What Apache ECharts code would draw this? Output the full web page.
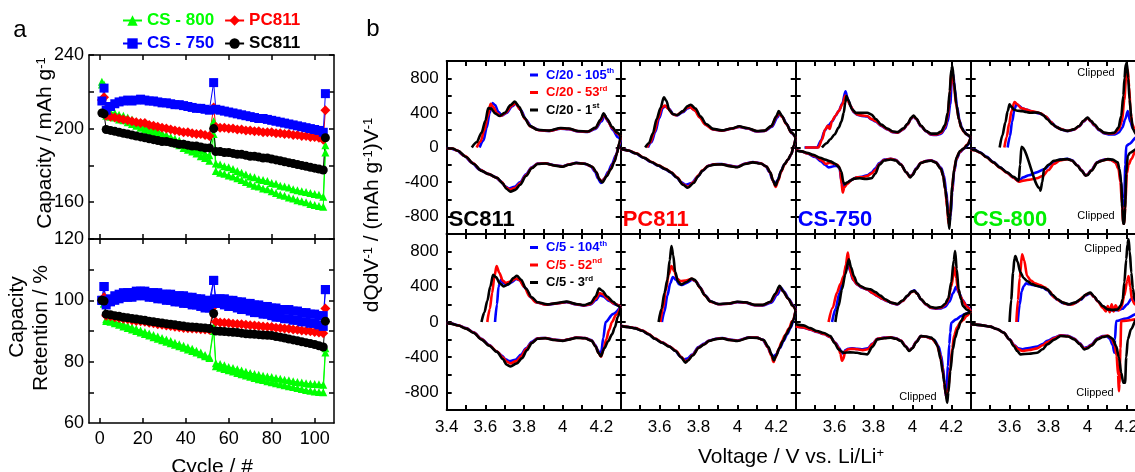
<!DOCTYPE html>
<html><head><meta charset="utf-8">
<script src="https://cdn.jsdelivr.net/npm/echarts@6/dist/echarts.min.js"></script>
<style>html,body{margin:0;padding:0;background:#fff;}#c{width:1135px;height:472px;}</style>
</head><body><div id="c"></div>
<script>
// ---------------- Panel a data ----------------
const cycles = [1,2,3,5,7,9,11,13,15,17,19,21,23,25,27,29,31,33,35,37,39,41,43,45,47,49,51,53,54,56,58,60,62,64,66,68,70,72,74,76,78,80,82,84,86,88,90,92,94,96,98,100,102,104,105];
const capCS750 = [215,222,210,212,213.5,214.5,215,215.5,215,215.5,216,215.5,215,215,214.5,214,214,213.5,213,213,212.5,212,211.5,211,211,210.5,210,225,210.5,210,209.5,209,208.5,208,207.5,207,206.5,206,205.5,205.5,205,204.5,204,203.5,203,202.5,202,201.5,201,200.5,200,199.5,199,198,219];
const capPC811 = [215.5,217,207,206.5,206,205.5,205,204.5,204,203.5,203,203,202,201.5,201,200.5,200,199.5,199,198.5,198,198,197.5,197,197,196.5,196,211.5,201,200.5,200.5,200,200,199.5,199.5,199,199,198.5,198.5,198,198,198,197.5,197.5,197,197,196.5,196.5,196,196,195.5,195.5,195,194,210];
const capSC811 = [208.5,208,199.5,199,198.5,198,197.5,197,196.5,196,195.5,195,194.5,194,193.5,193,193,192.5,192,191.5,191.5,191,190.5,190.5,190,189.5,189.5,200,187.5,187.5,187,187,186.5,186,186,185.5,185,185,184.5,184,184,183.5,183,182.5,182,181.5,181,180.5,180,179.5,179,178.5,178,177.5,195];
const capCS800_A = [225.5,224,209.5,209,208.5,207.5,207,206,205,204,203,202,201,200,199,197.5,196.5,195.5,194.5,193.5,192,191,190,189,188,186.5,185.5,204,181,180.5,179.5,179,178,177,176,175,174,173.5,172.5,172,171.5,170.5,170,169,168.5,168,167,166.5,166,165.5,165,164.5,164,163,191];
const capCS800_B = [224,222,207,206.5,206,205,204.5,203.5,202.5,201.5,200.5,199.5,198.5,197.5,196.5,195,194,193,192,191,189.5,188.5,187.5,186.5,185,184,182.5,197,177,176,175.5,174.5,174,173,172,171,170,169,168.5,167.5,167,166,165,164,163.5,162.5,162,161,160.5,160,159,158.5,158,157.5,187];
const retCS750_A = [100,104.5,99.5,100.5,101.5,102,102.5,102.5,102.5,103,103,103,102.5,102.5,102.5,102,102,102,101.5,101.5,101.5,101,101,100.5,100.5,100,100,106.5,100.5,100.5,100.5,100,100,99.5,99.5,99,99,98.5,98.5,98,98,97.5,97.5,97,97,97,96.5,96.5,96,96,95.5,95.5,95,95,103.5];
const retCS750_B = [100,104.5,98.5,99.5,100,100.5,101,101,101,101.5,101.5,101.5,101,101,100.5,100.5,100,100,99.5,99.5,99,99,98.5,98.5,98,97.5,97.5,106.5,99,99,98.5,98,98,97.5,97,97,96.5,96,96,95.5,95.5,95,94.5,94.5,94,94,93.5,93.5,93,93,92.5,92.5,92,91.5,103.5];
const retPC811 = [100,101,95,94.8,94.5,94.2,94,93.8,93.5,93.3,93.2,93,92.7,92.5,92.2,92,91.8,91.6,91.4,91.2,91,90.9,90.8,90.7,90.6,90.5,90.4,98,93,92.8,92.7,92.6,92.4,92.3,92.2,92,91.9,91.8,91.6,91.5,91.4,91.3,91.1,91,90.8,90.7,90.5,90.4,90.2,90.1,89.9,89.7,89.5,89.3,97.3];
const retSC811 = [100,99.8,95.5,95.3,95,94.8,94.5,94.3,94.1,93.9,93.7,93.5,93.2,93,92.8,92.6,92.4,92.2,92,91.8,91.6,91.4,91.3,91.2,91.1,91,90.8,95.7,90,89.9,89.8,89.7,89.6,89.5,89.3,89.1,89,88.9,88.8,88.7,88.6,88.5,88.2,88,87.7,87.4,87.1,86.8,86.5,86.2,85.9,85.6,85.2,84.8,93.2];
const retCS800_A = [100,99,93.8,93.5,93.1,92.6,92.2,91.7,91.2,90.7,90.2,89.7,89.2,88.7,88.2,87.7,87.2,86.7,86.2,85.7,85.2,84.7,84.2,83.6,83,82.2,81.5,91.5,79.5,79.2,78.8,78.3,77.9,77.5,77.1,76.7,76.3,76,75.7,75.4,75.2,75,74.7,74.4,74.1,73.9,73.6,73.4,73.2,73,72.8,72.7,72.6,72.5,84.4];
const retCS800_B = [100,99,93.3,93,92.5,92,91.5,91,90.5,90,89.5,89,88.5,88,87.5,87,86.5,86,85.5,85,84.5,84,83.5,83,82.4,81.8,81.2,90,78.5,78,77.6,77.2,76.8,76.3,75.9,75.5,75.1,74.7,74.3,74,73.6,73.3,73,72.6,72.3,72,71.7,71.4,71.1,70.8,70.5,70.3,70.1,70,83];
const cycleTicks = [0,20,40,60,80,100];
const capTicks = [160,180,200,220,240];
const capLabels = [160,200,240];
const retTicks = [70,80,90,100,110,120];
const retLabels = [60,80,100,120];

// ---------------- Panel b data (V, dQ/dV) ----------------
const SC811_C20_1st_chg = [[3.53,0],[3.555,60],[3.58,170],[3.6,310],[3.615,455],[3.63,450],[3.65,395],[3.672,365],[3.7,400],[3.73,490],[3.752,530],[3.775,470],[3.8,350],[3.83,250],[3.87,205],[3.93,195],[3.99,225],[4.03,220],[4.08,190],[4.13,185],[4.17,230],[4.195,320],[4.212,395],[4.23,330],[4.255,240],[4.28,175],[4.3,135]];
const SC811_C20_53rd_chg = [[3.555,0],[3.575,70],[3.595,200],[3.612,360],[3.627,505],[3.64,470],[3.66,395],[3.678,365],[3.705,400],[3.735,480],[3.755,510],[3.78,440],[3.805,330],[3.835,240],[3.875,200],[3.93,192],[3.99,220],[4.03,215],[4.08,188],[4.13,183],[4.17,225],[4.195,310],[4.213,385],[4.23,320],[4.255,230],[4.28,165],[4.3,125]];
const SC811_C20_105th_chg = [[3.57,0],[3.59,80],[3.607,230],[3.622,400],[3.637,515],[3.65,490],[3.668,410],[3.685,370],[3.71,400],[3.738,475],[3.758,505],[3.785,430],[3.81,320],[3.84,235],[3.88,200],[3.93,190],[3.99,218],[4.03,213],[4.08,186],[4.13,180],[4.17,215],[4.2,300],[4.218,370],[4.235,300],[4.26,200],[4.285,120],[4.3,90]];
const SC811_C20_1st_dis = [[4.3,135],[4.292,50],[4.282,-60],[4.268,-160],[4.25,-250],[4.228,-330],[4.205,-405],[4.19,-370],[4.175,-290],[4.155,-225],[4.12,-190],[4.07,-180],[4.03,-200],[4.0,-222],[3.96,-210],[3.91,-185],[3.87,-190],[3.84,-240],[3.81,-330],[3.78,-430],[3.755,-490],[3.73,-510],[3.71,-480],[3.69,-415],[3.66,-350],[3.62,-310],[3.58,-270],[3.54,-190],[3.5,-110],[3.46,-40],[3.43,-12],[3.4,-8]];
const SC811_C20_53rd_dis = [[4.3,125],[4.292,40],[4.28,-70],[4.265,-170],[4.245,-260],[4.225,-335],[4.203,-395],[4.188,-360],[4.172,-280],[4.15,-220],[4.115,-188],[4.07,-180],[4.03,-198],[4.0,-220],[3.96,-208],[3.91,-183],[3.87,-188],[3.84,-235],[3.81,-320],[3.78,-415],[3.752,-470],[3.727,-490],[3.705,-460],[3.685,-400],[3.655,-345],[3.615,-305],[3.575,-260],[3.535,-180],[3.495,-100],[3.455,-35],[3.43,-12],[3.4,-8]];
const SC811_C20_105th_dis = [[4.3,90],[4.29,10],[4.275,-90],[4.255,-190],[4.235,-280],[4.215,-360],[4.197,-410],[4.183,-360],[4.167,-280],[4.145,-215],[4.11,-186],[4.07,-178],[4.03,-196],[4.0,-218],[3.96,-206],[3.91,-182],[3.87,-186],[3.84,-228],[3.81,-310],[3.78,-400],[3.75,-455],[3.722,-475],[3.7,-445],[3.68,-390],[3.65,-340],[3.61,-300],[3.57,-255],[3.53,-175],[3.49,-95],[3.45,-32],[3.42,-10],[3.4,-6]];

const SC811_C5_3rd_chg = [[3.58,0],[3.595,110],[3.61,240],[3.625,400],[3.64,535],[3.655,510],[3.675,440],[3.695,405],[3.72,430],[3.745,500],[3.763,525],[3.785,480],[3.81,380],[3.84,280],[3.87,225],[3.92,200],[3.97,215],[4.02,232],[4.07,205],[4.11,192],[4.145,215],[4.17,290],[4.188,380],[4.205,355],[4.23,290],[4.26,230],[4.285,185],[4.3,160]];
const SC811_C5_52nd_chg = [[3.61,0],[3.623,150],[3.635,330],[3.647,520],[3.658,635],[3.672,560],[3.69,470],[3.705,445],[3.73,460],[3.758,495],[3.775,480],[3.8,400],[3.83,290],[3.86,225],[3.91,198],[3.97,212],[4.02,228],[4.07,202],[4.11,188],[4.145,205],[4.17,265],[4.19,330],[4.208,315],[4.235,260],[4.265,210],[4.3,170]];
const SC811_C5_104th_chg = [[3.65,0],[3.66,200],[3.668,400],[3.68,480],[3.695,440],[3.71,420],[3.735,450],[3.76,490],[3.78,470],[3.805,390],[3.835,280],[3.865,222],[3.915,196],[3.97,210],[4.02,226],[4.07,200],[4.11,186],[4.145,200],[4.172,250],[4.192,305],[4.21,290],[4.24,240],[4.27,200],[4.3,175]];
const SC811_C5_3rd_dis = [[4.3,160],[4.285,60],[4.27,-60],[4.255,-140],[4.235,-220],[4.215,-300],[4.197,-390],[4.185,-350],[4.17,-280],[4.15,-215],[4.115,-185],[4.07,-180],[4.03,-200],[4.0,-215],[3.96,-205],[3.91,-185],[3.87,-190],[3.84,-240],[3.815,-320],[3.79,-410],[3.763,-470],[3.73,-505],[3.71,-485],[3.69,-420],[3.66,-340],[3.62,-270],[3.58,-200],[3.54,-125],[3.5,-75],[3.46,-40],[3.42,-18],[3.4,-10]];
const SC811_C5_52nd_dis = [[4.3,170],[4.275,80],[4.255,0],[4.24,-90],[4.225,-200],[4.21,-320],[4.198,-395],[4.185,-350],[4.17,-275],[4.15,-212],[4.115,-183],[4.07,-178],[4.03,-198],[4.0,-213],[3.96,-203],[3.91,-183],[3.87,-188],[3.84,-235],[3.81,-310],[3.785,-390],[3.76,-445],[3.73,-470],[3.71,-450],[3.69,-400],[3.66,-335],[3.62,-265],[3.58,-195],[3.54,-120],[3.5,-72],[3.46,-38],[3.42,-17],[3.4,-10]];
const SC811_C5_104th_dis = [[4.3,175],[4.26,90],[4.222,0],[4.21,-180],[4.2,-330],[4.193,-365],[4.182,-320],[4.168,-260],[4.148,-205],[4.115,-182],[4.07,-176],[4.03,-196],[4.0,-211],[3.96,-201],[3.91,-181],[3.87,-185],[3.84,-225],[3.81,-300],[3.785,-370],[3.755,-430],[3.725,-445],[3.705,-425],[3.685,-380],[3.655,-330],[3.62,-262],[3.58,-192],[3.54,-118],[3.5,-70],[3.46,-37],[3.42,-16],[3.4,-10]];

const PC811_C20_1st_chg = [[3.526,0],[3.545,50],[3.565,160],[3.585,330],[3.605,460],[3.622,580],[3.635,540],[3.65,430],[3.67,385],[3.69,375],[3.72,420],[3.745,480],[3.76,495],[3.785,450],[3.81,360],[3.84,270],[3.875,215],[3.92,198],[3.97,220],[4.01,245],[4.05,225],[4.1,190],[4.14,195],[4.175,250],[4.2,360],[4.213,420],[4.228,370],[4.25,280],[4.277,175],[4.3,115]];
const PC811_C20_53rd_chg = [[3.535,0],[3.553,60],[3.573,180],[3.593,340],[3.612,460],[3.627,485],[3.645,450],[3.665,390],[3.685,372],[3.715,410],[3.742,460],[3.755,470],[3.78,430],[3.805,350],[3.835,265],[3.87,212],[3.92,195],[3.97,218],[4.01,240],[4.05,222],[4.1,188],[4.14,192],[4.175,245],[4.2,350],[4.215,400],[4.23,355],[4.252,270],[4.278,170],[4.3,112]];
const PC811_C20_105th_chg = [[3.54,0],[3.558,60],[3.578,180],[3.598,340],[3.617,460],[3.632,480],[3.65,445],[3.67,385],[3.69,370],[3.72,408],[3.745,455],[3.758,465],[3.785,425],[3.81,345],[3.84,262],[3.875,210],[3.92,194],[3.97,216],[4.01,238],[4.05,220],[4.1,186],[4.14,190],[4.178,240],[4.205,345],[4.218,390],[4.233,350],[4.255,265],[4.28,165],[4.3,110]];
const PC811_C20_1st_dis = [[4.3,115],[4.29,20],[4.277,-76],[4.26,-140],[4.243,-190],[4.225,-270],[4.21,-370],[4.196,-440],[4.183,-380],[4.17,-290],[4.15,-220],[4.12,-185],[4.08,-172],[4.04,-190],[4.0,-228],[3.96,-215],[3.92,-195],[3.88,-198],[3.85,-215],[3.82,-270],[3.8,-330],[3.775,-410],[3.745,-465],[3.72,-430],[3.69,-350],[3.66,-290],[3.63,-250],[3.595,-210],[3.56,-170],[3.52,-120],[3.48,-70],[3.44,-35],[3.4,-15]];
const PC811_C20_53rd_dis = [[4.3,112],[4.29,18],[4.277,-78],[4.26,-142],[4.243,-195],[4.225,-280],[4.21,-385],[4.197,-455],[4.184,-390],[4.17,-292],[4.15,-220],[4.12,-183],[4.08,-170],[4.04,-188],[4.0,-225],[3.96,-212],[3.92,-193],[3.88,-195],[3.85,-212],[3.82,-265],[3.8,-320],[3.775,-400],[3.745,-455],[3.72,-425],[3.69,-345],[3.66,-287],[3.63,-247],[3.595,-207],[3.56,-168],[3.52,-118],[3.48,-68],[3.44,-34],[3.4,-14]];
const PC811_C20_105th_dis = [[4.3,110],[4.29,15],[4.277,-80],[4.26,-145],[4.24,-200],[4.222,-290],[4.207,-380],[4.193,-420],[4.18,-370],[4.166,-285],[4.145,-215],[4.12,-182],[4.08,-168],[4.04,-186],[4.0,-222],[3.96,-210],[3.92,-191],[3.88,-193],[3.85,-212],[3.82,-270],[3.795,-340],[3.765,-410],[3.735,-432],[3.71,-400],[3.685,-340],[3.655,-285],[3.625,-248],[3.59,-208],[3.555,-168],[3.515,-116],[3.475,-66],[3.435,-32],[3.4,-14]];

const PC811_C5_3rd_chg = [[3.595,0],[3.61,150],[3.625,330],[3.64,480],[3.652,700],[3.661,864],[3.67,760],[3.68,570],[3.695,460],[3.71,425],[3.74,455],[3.765,495],[3.78,480],[3.805,400],[3.83,310],[3.86,235],[3.9,205],[3.95,210],[4.0,230],[4.04,225],[4.09,195],[4.13,195],[4.17,230],[4.195,320],[4.217,410],[4.235,350],[4.26,270],[4.285,185],[4.3,130]];
const PC811_C5_52nd_chg = [[3.604,0],[3.618,160],[3.632,360],[3.647,540],[3.661,637],[3.675,580],[3.69,490],[3.708,465],[3.735,470],[3.765,490],[3.785,465],[3.81,385],[3.835,295],[3.865,228],[3.905,202],[3.955,208],[4.0,228],[4.04,222],[4.09,192],[4.13,192],[4.17,228],[4.197,315],[4.218,400],[4.236,345],[4.262,262],[4.288,178],[4.3,135]];
const PC811_C5_104th_chg = [[3.612,0],[3.625,120],[3.64,300],[3.655,440],[3.668,512],[3.685,480],[3.7,430],[3.715,420],[3.74,445],[3.768,480],[3.788,460],[3.81,390],[3.835,300],[3.865,230],[3.905,202],[3.955,207],[4.0,226],[4.04,220],[4.09,190],[4.13,188],[4.175,220],[4.205,310],[4.225,390],[4.242,340],[4.265,260],[4.29,180],[4.3,145]];
const PC811_C5_3rd_dis = [[4.3,130],[4.286,11],[4.27,-70],[4.251,-140],[4.235,-215],[4.217,-292],[4.2,-380],[4.188,-436],[4.176,-370],[4.16,-285],[4.135,-205],[4.1,-180],[4.06,-178],[4.0,-216],[3.96,-205],[3.923,-186],[3.89,-195],[3.854,-216],[3.83,-255],[3.802,-292],[3.77,-380],[3.745,-440],[3.733,-462],[3.71,-400],[3.682,-330],[3.65,-280],[3.612,-235],[3.575,-190],[3.543,-140],[3.51,-100],[3.474,-72],[3.44,-58],[3.4,-45]];
const PC811_C5_52nd_dis = [[4.3,135],[4.282,10],[4.265,-75],[4.245,-150],[4.228,-225],[4.212,-310],[4.197,-400],[4.186,-455],[4.174,-380],[4.158,-290],[4.133,-205],[4.1,-178],[4.06,-176],[4.0,-213],[3.96,-203],[3.923,-184],[3.89,-193],[3.854,-214],[3.83,-252],[3.802,-290],[3.77,-375],[3.745,-435],[3.735,-455],[3.712,-398],[3.684,-328],[3.652,-278],[3.614,-233],[3.577,-188],[3.545,-138],[3.512,-98],[3.476,-70],[3.44,-56],[3.4,-44]];
const PC811_C5_104th_dis = [[4.3,145],[4.29,30],[4.275,-60],[4.256,-140],[4.238,-215],[4.218,-300],[4.198,-370],[4.183,-395],[4.17,-350],[4.155,-280],[4.13,-200],[4.1,-176],[4.06,-174],[4.0,-210],[3.96,-200],[3.923,-182],[3.89,-190],[3.854,-210],[3.83,-245],[3.8,-285],[3.768,-370],[3.742,-415],[3.725,-425],[3.705,-390],[3.68,-325],[3.65,-275],[3.612,-232],[3.575,-188],[3.543,-138],[3.51,-98],[3.474,-70],[3.44,-56],[3.4,-44]];

const CS750_C20_1st_chg = [[3.535,0],[3.56,50],[3.578,96],[3.6,150],[3.621,230],[3.635,300],[3.647,402],[3.655,520],[3.661,594],[3.67,550],[3.69,440],[3.71,400],[3.74,400],[3.768,402],[3.79,380],[3.811,330],[3.84,265],[3.872,218],[3.9,185],[3.923,178],[3.955,222],[3.975,275],[3.995,345],[4.006,370],[4.02,335],[4.044,255],[4.07,192],[4.096,160],[4.125,160],[4.148,185],[4.168,260],[4.182,400],[4.192,650],[4.2,900],[4.206,940],[4.214,760],[4.226,500],[4.24,320],[4.251,235],[4.265,185],[4.277,155],[4.3,118]];
const CS750_C20_53rd_chg = [[3.448,0],[3.517,0],[3.535,90],[3.552,211],[3.565,250],[3.575,215],[3.587,306],[3.605,370],[3.621,421],[3.64,500],[3.656,600],[3.668,540],[3.682,479],[3.7,410],[3.716,383],[3.74,370],[3.768,364],[3.79,330],[3.811,306],[3.84,255],[3.872,211],[3.9,180],[3.923,172],[3.955,215],[3.975,268],[3.995,340],[4.006,364],[4.02,330],[4.044,249],[4.07,190],[4.096,153],[4.125,150],[4.148,172],[4.168,240],[4.182,364],[4.192,600],[4.2,860],[4.206,880],[4.214,700],[4.226,479],[4.24,320],[4.251,230],[4.265,180],[4.277,153],[4.3,115]];
const CS750_C20_105th_chg = [[3.445,0],[3.51,0],[3.53,80],[3.55,200],[3.57,260],[3.587,300],[3.605,365],[3.621,420],[3.64,510],[3.656,650],[3.668,560],[3.682,480],[3.7,405],[3.716,380],[3.74,365],[3.768,358],[3.79,325],[3.811,300],[3.84,250],[3.872,208],[3.9,178],[3.923,170],[3.955,212],[3.975,265],[3.995,335],[4.006,360],[4.02,325],[4.044,245],[4.07,186],[4.096,148],[4.125,144],[4.148,160],[4.168,215],[4.182,300],[4.195,500],[4.203,800],[4.21,850],[4.218,680],[4.23,470],[4.243,310],[4.255,225],[4.27,175],[4.285,140],[4.3,110]];
const CS750_C20_1st_dis = [[4.3,118],[4.286,38],[4.265,-10],[4.245,-40],[4.228,-110],[4.215,-250],[4.205,-450],[4.196,-750],[4.19,-940],[4.184,-800],[4.176,-600],[4.169,-479],[4.158,-330],[4.148,-249],[4.12,-175],[4.096,-153],[4.07,-160],[4.044,-180],[4.02,-250],[4.0,-320],[3.989,-345],[3.97,-290],[3.941,-200],[3.915,-150],[3.889,-138],[3.855,-150],[3.83,-200],[3.81,-300],[3.79,-355],[3.76,-365],[3.73,-355],[3.7,-360],[3.68,-385],[3.664,-405],[3.652,-425],[3.645,-400],[3.635,-280],[3.621,-220],[3.6,-185],[3.578,-160],[3.55,-140],[3.526,-118],[3.49,-85],[3.457,-60],[3.43,-45],[3.4,-35]];
const CS750_C20_53rd_dis = [[4.3,115],[4.28,30],[4.26,-20],[4.24,-60],[4.225,-140],[4.212,-300],[4.202,-550],[4.192,-820],[4.186,-880],[4.179,-700],[4.17,-500],[4.158,-320],[4.145,-240],[4.12,-170],[4.096,-150],[4.07,-158],[4.044,-178],[4.02,-245],[4.0,-315],[3.987,-340],[3.968,-285],[3.94,-195],[3.915,-145],[3.889,-132],[3.855,-145],[3.83,-190],[3.81,-260],[3.79,-300],[3.768,-330],[3.74,-345],[3.716,-345],[3.69,-370],[3.665,-420],[3.65,-460],[3.642,-520],[3.636,-420],[3.628,-250],[3.615,-200],[3.6,-190],[3.575,-175],[3.555,-190],[3.535,-150],[3.5,-100],[3.46,-70],[3.43,-45],[3.4,-30]];
const CS750_C20_105th_dis = [[4.3,110],[4.285,25],[4.265,-15],[4.245,-55],[4.228,-130],[4.215,-280],[4.205,-520],[4.196,-800],[4.19,-870],[4.183,-720],[4.174,-500],[4.162,-320],[4.148,-235],[4.12,-168],[4.096,-148],[4.07,-156],[4.044,-176],[4.02,-240],[4.0,-312],[3.987,-338],[3.968,-283],[3.94,-192],[3.915,-143],[3.889,-130],[3.855,-140],[3.83,-180],[3.81,-240],[3.79,-290],[3.768,-320],[3.74,-340],[3.716,-345],[3.69,-370],[3.665,-410],[3.65,-440],[3.642,-470],[3.635,-380],[3.625,-240],[3.61,-210],[3.59,-220],[3.57,-230],[3.55,-200],[3.53,-160],[3.5,-110],[3.46,-70],[3.43,-45],[3.4,-30]];

const CS750_C5_3rd_chg = [[3.604,0],[3.62,180],[3.638,371],[3.655,540],[3.673,712],[3.685,620],[3.699,523],[3.716,440],[3.733,409],[3.76,380],[3.785,371],[3.81,340],[3.835,300],[3.86,258],[3.89,222],[3.923,205],[3.95,245],[3.975,300],[3.995,345],[4.01,355],[4.025,322],[4.044,260],[4.07,205],[4.096,170],[4.12,160],[4.148,170],[4.168,205],[4.185,270],[4.2,450],[4.213,700],[4.22,807],[4.228,600],[4.238,371],[4.25,260],[4.26,182],[4.28,140],[4.3,110]];
const CS750_C5_52nd_chg = [[3.569,0],[3.59,160],[3.612,333],[3.63,430],[3.647,523],[3.658,650],[3.668,788],[3.675,680],[3.682,561],[3.7,470],[3.716,428],[3.74,395],[3.768,371],[3.795,330],[3.82,296],[3.845,265],[3.872,239],[3.9,215],[3.923,201],[3.95,240],[3.975,296],[3.995,340],[4.01,352],[4.025,320],[4.044,258],[4.07,200],[4.096,163],[4.12,155],[4.148,163],[4.168,195],[4.182,239],[4.2,400],[4.217,618],[4.226,500],[4.234,371],[4.248,290],[4.26,239],[4.28,175],[4.3,120]];
const CS750_C5_104th_chg = [[3.587,0],[3.605,150],[3.625,330],[3.645,500],[3.662,650],[3.668,675],[3.68,580],[3.695,480],[3.716,425],[3.74,390],[3.768,368],[3.795,328],[3.82,294],[3.845,262],[3.872,236],[3.9,212],[3.923,199],[3.95,238],[3.975,294],[3.995,345],[4.01,360],[4.025,325],[4.044,256],[4.07,198],[4.096,160],[4.12,150],[4.148,155],[4.17,175],[4.19,230],[4.21,330],[4.225,400],[4.24,330],[4.258,250],[4.28,180],[4.3,130]];
const CS750_C5_3rd_dis = [[4.3,110],[4.285,100],[4.269,87],[4.25,10],[4.234,-83],[4.22,-180],[4.208,-311],[4.195,-560],[4.185,-800],[4.179,-917],[4.172,-820],[4.165,-700],[4.157,-576],[4.145,-420],[4.13,-273],[4.11,-200],[4.096,-178],[4.07,-165],[4.044,-159],[4.02,-230],[4.0,-300],[3.984,-330],[3.965,-280],[3.941,-216],[3.915,-190],[3.889,-178],[3.855,-185],[3.82,-197],[3.795,-280],[3.768,-368],[3.74,-360],[3.716,-349],[3.68,-345],[3.647,-349],[3.635,-335],[3.621,-311],[3.6,-240],[3.578,-159],[3.545,-125],[3.509,-102],[3.475,-70],[3.44,-38],[3.4,-25]];
const CS750_C5_52nd_dis = [[4.3,120],[4.28,70],[4.26,20],[4.245,-10],[4.23,-60],[4.215,-150],[4.205,-300],[4.195,-520],[4.185,-750],[4.177,-870],[4.17,-800],[4.162,-650],[4.152,-480],[4.14,-350],[4.125,-250],[4.1,-190],[4.07,-168],[4.044,-160],[4.02,-225],[4.0,-295],[3.984,-325],[3.965,-275],[3.941,-212],[3.915,-187],[3.889,-175],[3.855,-180],[3.82,-192],[3.795,-250],[3.77,-310],[3.745,-320],[3.716,-310],[3.69,-305],[3.67,-310],[3.655,-330],[3.645,-420],[3.638,-440],[3.63,-360],[3.62,-290],[3.6,-230],[3.578,-170],[3.545,-135],[3.509,-110],[3.475,-85],[3.44,-62],[3.4,-50]];
const CS750_C5_104th_dis = [[4.3,130],[4.27,90],[4.251,68],[4.225,30],[4.2,-8],[4.195,-120],[4.19,-250],[4.183,-500],[4.176,-800],[4.172,-840],[4.166,-700],[4.158,-520],[4.148,-380],[4.135,-280],[4.115,-210],[4.096,-185],[4.07,-168],[4.044,-160],[4.02,-222],[4.0,-292],[3.984,-322],[3.965,-272],[3.941,-210],[3.915,-185],[3.889,-173],[3.855,-178],[3.82,-190],[3.795,-245],[3.77,-300],[3.745,-310],[3.716,-305],[3.69,-300],[3.67,-305],[3.655,-320],[3.645,-360],[3.637,-350],[3.625,-300],[3.605,-235],[3.578,-172],[3.545,-137],[3.509,-112],[3.475,-87],[3.44,-64],[3.4,-52]];

const CS800_C20_1st_chg = [[3.549,0],[3.563,140],[3.578,287],[3.59,420],[3.6,498],[3.61,470],[3.621,440],[3.64,425],[3.664,421],[3.685,410],[3.707,402],[3.73,405],[3.751,402],[3.775,370],[3.794,326],[3.82,270],[3.846,230],[3.87,205],[3.897,192],[3.93,210],[3.958,249],[3.98,310],[4.001,345],[4.018,310],[4.036,268],[4.06,210],[4.087,172],[4.115,165],[4.139,172],[4.16,230],[4.174,364],[4.185,600],[4.191,800],[4.197,960],[4.203,977],[4.21,800],[4.217,555],[4.226,350],[4.234,211],[4.251,153],[4.27,130],[4.3,110]];
const CS800_C20_53rd_chg = [[3.573,0],[3.585,120],[3.598,280],[3.61,420],[3.625,525],[3.64,500],[3.66,455],[3.685,440],[3.71,420],[3.735,410],[3.76,395],[3.785,360],[3.81,300],[3.835,245],[3.86,215],[3.897,192],[3.93,208],[3.958,245],[3.98,305],[4.001,340],[4.018,305],[4.036,260],[4.06,205],[4.087,168],[4.115,160],[4.139,165],[4.16,205],[4.178,300],[4.19,550],[4.2,850],[4.208,900],[4.215,700],[4.222,420],[4.23,270],[4.245,200],[4.26,180],[4.3,150]];
const CS800_C20_105th_chg = [[3.59,0],[3.602,130],[3.613,300],[3.625,440],[3.635,500],[3.65,480],[3.668,450],[3.69,435],[3.715,415],[3.74,400],[3.765,385],[3.79,350],[3.815,290],[3.84,238],[3.865,210],[3.897,190],[3.93,205],[3.958,243],[3.98,300],[4.001,340],[4.018,300],[4.036,255],[4.06,200],[4.087,163],[4.115,152],[4.139,150],[4.16,170],[4.18,230],[4.195,330],[4.208,421],[4.22,300],[4.235,220],[4.25,200],[4.3,180]];
const CS800_C20_1st_dis = [[4.3,110],[4.275,40],[4.251,-19],[4.22,-60],[4.208,-96],[4.2,-300],[4.194,-700],[4.19,-880],[4.184,-880],[4.18,-700],[4.174,-402],[4.165,-250],[4.156,-172],[4.13,-140],[4.105,-134],[4.08,-150],[4.053,-172],[4.02,-270],[4.0,-320],[3.992,-326],[3.97,-270],[3.949,-211],[3.92,-150],[3.897,-134],[3.86,-140],[3.828,-153],[3.8,-200],[3.777,-249],[3.768,-400],[3.759,-498],[3.755,-470],[3.661,8],[3.654,-200],[3.647,-383],[3.62,-340],[3.587,-287],[3.55,-230],[3.517,-172],[3.48,-110],[3.448,-57],[3.42,-30],[3.4,-19]];
const CS800_C20_53rd_dis = [[4.3,150],[4.275,60],[4.251,-19],[4.226,-134],[4.212,-200],[4.203,-300],[4.196,-600],[4.19,-880],[4.184,-880],[4.178,-650],[4.17,-400],[4.16,-250],[4.145,-175],[4.12,-145],[4.096,-140],[4.07,-155],[4.05,-175],[4.02,-265],[4.0,-315],[3.99,-322],[3.97,-265],[3.949,-208],[3.92,-150],[3.897,-135],[3.86,-150],[3.828,-190],[3.8,-260],[3.77,-330],[3.74,-355],[3.71,-370],[3.67,-383],[3.647,-395],[3.62,-350],[3.587,-295],[3.55,-235],[3.517,-175],[3.48,-112],[3.448,-60],[3.42,-32],[3.4,-22]];
const CS800_C20_105th_dis = [[4.3,180],[4.251,115],[4.215,40],[4.2,19],[4.195,-200],[4.19,-600],[4.186,-760],[4.18,-600],[4.172,-380],[4.162,-240],[4.145,-170],[4.12,-140],[4.096,-135],[4.07,-150],[4.05,-172],[4.02,-260],[4.0,-312],[3.99,-320],[3.97,-262],[3.949,-205],[3.92,-146],[3.897,-130],[3.86,-140],[3.828,-175],[3.81,-192],[3.78,-250],[3.74,-287],[3.7,-320],[3.67,-345],[3.647,-390],[3.62,-350],[3.587,-290],[3.55,-228],[3.517,-168],[3.48,-105],[3.448,-55],[3.42,-28],[3.4,-18]];

const CS800_C5_3rd_chg = [[3.6,0],[3.608,250],[3.618,561],[3.625,720],[3.63,750],[3.64,690],[3.656,561],[3.672,500],[3.69,466],[3.715,430],[3.742,409],[3.77,395],[3.794,371],[3.82,310],[3.846,258],[3.875,220],[3.906,201],[3.935,220],[3.966,258],[3.99,310],[4.015,334],[4.035,290],[4.053,239],[4.08,180],[4.105,144],[4.13,138],[4.156,144],[4.172,190],[4.182,258],[4.19,450],[4.2,712],[4.206,880],[4.212,940],[4.218,800],[4.226,561],[4.234,380],[4.243,258],[4.26,200],[4.3,150]];
const CS800_C5_52nd_chg = [[3.635,0],[3.643,250],[3.652,500],[3.664,769],[3.675,700],[3.69,523],[3.71,470],[3.73,440],[3.755,420],[3.78,395],[3.805,350],[3.83,280],[3.86,235],[3.89,205],[3.92,200],[3.95,230],[3.975,280],[4.0,320],[4.015,330],[4.035,285],[4.055,230],[4.08,160],[4.095,120],[4.105,180],[4.115,110],[4.125,200],[4.135,120],[4.145,190],[4.16,130],[4.175,170],[4.19,300],[4.205,470],[4.212,523],[4.22,400],[4.23,250],[4.245,200],[4.3,140]];
const CS800_C5_104th_chg = [[3.642,0],[3.652,200],[3.662,350],[3.673,409],[3.685,440],[3.7,430],[3.72,420],[3.745,410],[3.77,392],[3.795,360],[3.82,300],[3.846,252],[3.875,215],[3.906,198],[3.935,215],[3.966,252],[3.99,300],[4.015,325],[4.035,285],[4.053,235],[4.08,175],[4.105,140],[4.13,132],[4.156,135],[4.18,150],[4.205,200],[4.225,260],[4.234,277],[4.245,240],[4.27,200],[4.3,170]];
const CS800_C5_3rd_dis = [[4.3,150],[4.27,80],[4.251,30],[4.225,-80],[4.208,-197],[4.2,-400],[4.194,-690],[4.185,-690],[4.174,-576],[4.162,-400],[4.148,-273],[4.13,-190],[4.105,-159],[4.08,-170],[4.053,-197],[4.02,-270],[4.0,-300],[3.984,-311],[3.96,-250],[3.932,-197],[3.9,-165],[3.863,-159],[3.83,-200],[3.794,-254],[3.77,-310],[3.742,-349],[3.7,-360],[3.656,-368],[3.64,-330],[3.621,-273],[3.6,-200],[3.569,-121],[3.535,-80],[3.5,-53],[3.46,-38],[3.414,-27],[3.4,-25]];
const CS800_C5_52nd_dis = [[4.3,140],[4.251,30],[4.2,15],[4.174,11],[4.17,-300],[4.165,-700],[4.162,-785],[4.158,-600],[4.15,-380],[4.14,-260],[4.125,-190],[4.105,-155],[4.08,-165],[4.053,-190],[4.02,-262],[4.0,-292],[3.984,-303],[3.96,-245],[3.932,-192],[3.9,-160],[3.863,-155],[3.83,-185],[3.794,-228],[3.77,-265],[3.742,-300],[3.7,-318],[3.665,-330],[3.645,-310],[3.625,-270],[3.6,-200],[3.569,-121],[3.535,-80],[3.5,-53],[3.46,-38],[3.414,-27],[3.4,-25]];
const CS800_C5_104th_dis = [[4.3,170],[4.251,90],[4.2,40],[4.148,11],[4.142,-200],[4.139,-349],[4.13,-260],[4.115,-190],[4.1,-160],[4.08,-160],[4.053,-185],[4.02,-255],[4.0,-285],[3.984,-295],[3.96,-240],[3.932,-188],[3.9,-157],[3.863,-152],[3.83,-178],[3.794,-215],[3.77,-250],[3.742,-280],[3.7,-295],[3.665,-310],[3.645,-300],[3.625,-265],[3.6,-198],[3.569,-120],[3.535,-80],[3.5,-53],[3.46,-38],[3.414,-27],[3.4,-25]];

const voltTicks = [3.5,3.6,3.7,3.8,3.9,4.0,4.1,4.2];
const voltLabelsFirst = [3.4,3.6,3.8,4,4.2];
const voltLabelsOther = [3.6,3.8,4,4.2];
const dqTicks = [-800,-600,-400,-200,0,200,400,600,800];
const dqLabels = [-800,-400,0,400,800];
const rowNames = [['C/20 - 105th','C/20 - 53rd','C/20 - 1st'],['C/5 - 104th','C/5 - 52nd','C/5 - 3rd']];
const curveColors = ['#0000ff','#ff0000','#000000'];
const sampleNames = ['SC811','PC811','CS-750','CS-800'];
const sampleColors = ['#000000','#ff0000','#0000ff','#00ee00'];

// ---------------- build ----------------
const F = '"Liberation Sans", Arial, sans-serif';
const grid = [], xAxis = [], yAxis = [], series = [];
function addGrid(g, xc, yc, lw) {
  const gi = grid.length;
  grid.push(Object.assign({containLabel:false, outerBoundsMode:'none'}, g));
  const mk = (pos, c, labels) => ({
    type:'value', gridIndex:gi, position:pos, min:c.min, max:c.max,
    axisLine:{show:true, onZero:false, lineStyle:{color:'#000', width:lw}},
    axisTick:{show:true, inside:true, length:5, customValues:c.ticks, lineStyle:{color:'#000', width:lw}},
    splitLine:{show:false},
    axisLabel: labels ? {show:true, customValues:labels, margin:c.margin, color:'#000', fontSize:c.fs, fontFamily:F,
      formatter:(v)=>String(Math.round(v*100)/100)} : {show:false}
  });
  xAxis.push(mk('bottom', xc, xc.labels), mk('top', xc, null));
  yAxis.push(mk('left', yc, yc.labels), mk('right', yc, null));
  return gi;
}
const zip = (xs, ys) => xs.map((x,i)=>[x, ys[i]]);

// panel a grids
const gA0 = addGrid({left:89, top:55, width:245, height:184},
  {min:-5, max:109, ticks:cycleTicks, labels:null},
  {min:140, max:240, ticks:capTicks, labels:capLabels, margin:5, fs:18}, 1.5);
const gA1 = addGrid({left:89, top:239, width:245, height:184},
  {min:-5, max:109, ticks:cycleTicks, labels:cycleTicks, margin:7, fs:18},
  {min:60, max:120, ticks:retTicks, labels:retLabels, margin:5, fs:18}, 1.5);

const aMaterials = [
  {name:'CS - 800', color:'#00ff00', symbol:'triangle', size:8, cap:[capCS800_A, capCS800_B], ret:[retCS800_A, retCS800_B]},
  {name:'PC811', color:'#ff0000', symbol:'diamond', size:10, cap:[capPC811], ret:[retPC811]},
  {name:'CS - 750', color:'#0000ff', symbol:'rect', size:9, cap:[capCS750], ret:[retCS750_A, retCS750_B]},
  {name:'SC811', color:'#000000', symbol:'circle', size:9, cap:[capSC811], ret:[retSC811]}
];
aMaterials.forEach(m => {
  [[gA0, m.cap],[gA1, m.ret]].forEach(([gi, tracks]) => {
    tracks.forEach(vals => series.push({
      type:'line', name:m.name, xAxisIndex:2*gi, yAxisIndex:2*gi, data:zip(cycles, vals),
      symbol:m.symbol, symbolSize:m.size, showSymbol:true, color:m.color,
      itemStyle:{color:m.color}, lineStyle:{color:m.color, width:1}, z:3
    }));
  });
});

// panel b grids
const colLeft = [446.7, 620.7, 795.7, 970.7];
const colW = [174, 175, 175, 175];
const rowTop = [61, 234], rowH = [173, 176];
const curvesB = [
  [[SC811_C20_105th_chg,SC811_C20_105th_dis],[SC811_C20_53rd_chg,SC811_C20_53rd_dis],[SC811_C20_1st_chg,SC811_C20_1st_dis]],
  [[PC811_C20_105th_chg,PC811_C20_105th_dis],[PC811_C20_53rd_chg,PC811_C20_53rd_dis],[PC811_C20_1st_chg,PC811_C20_1st_dis]],
  [[CS750_C20_105th_chg,CS750_C20_105th_dis],[CS750_C20_53rd_chg,CS750_C20_53rd_dis],[CS750_C20_1st_chg,CS750_C20_1st_dis]],
  [[CS800_C20_105th_chg,CS800_C20_105th_dis],[CS800_C20_53rd_chg,CS800_C20_53rd_dis],[CS800_C20_1st_chg,CS800_C20_1st_dis]],
  [[SC811_C5_104th_chg,SC811_C5_104th_dis],[SC811_C5_52nd_chg,SC811_C5_52nd_dis],[SC811_C5_3rd_chg,SC811_C5_3rd_dis]],
  [[PC811_C5_104th_chg,PC811_C5_104th_dis],[PC811_C5_52nd_chg,PC811_C5_52nd_dis],[PC811_C5_3rd_chg,PC811_C5_3rd_dis]],
  [[CS750_C5_104th_chg,CS750_C5_104th_dis],[CS750_C5_52nd_chg,CS750_C5_52nd_dis],[CS750_C5_3rd_chg,CS750_C5_3rd_dis]],
  [[CS800_C5_104th_chg,CS800_C5_104th_dis],[CS800_C5_52nd_chg,CS800_C5_52nd_dis],[CS800_C5_3rd_chg,CS800_C5_3rd_dis]]
];
for (let r = 0; r < 2; r++) for (let c = 0; c < 4; c++) {
  const gi = addGrid({left:colLeft[c], top:rowTop[r], width:colW[c], height:rowH[r]},
    {min:3.4, max:4.3, ticks:voltTicks, labels: r===1 ? (c===0 ? voltLabelsFirst : voltLabelsOther) : null, margin:9, fs:17},
    {min:-1000, max:1000, ticks:dqTicks, labels: c===0 ? dqLabels : null, margin:8, fs:17}, 2);
  curvesB[r*4+c].forEach((pair, k) => {
    pair.forEach(d => series.push({
      type:'line', name:rowNames[r][k], xAxisIndex:2*gi, yAxisIndex:2*gi, data:d,
      showSymbol:false, symbol:'none', smooth:0.3, smoothMonotone:'x', color:curveColors[k],
      lineStyle:{color:curveColors[k], width:2.6}, z:2+k, clip:true
    }));
  });
}

// legends
const supKey = {'#0000ff':'b','#ff0000':'r','#000000':'k'};
const richB = {};
[['b','#0000ff'],['r','#ff0000'],['k','#000000']].forEach(([k,col]) => {
  richB[k] = {color:col, fontSize:13, fontWeight:'bold', fontFamily:F, lineHeight:16, padding:[0,0,0,3]};
  richB[k+'s'] = {color:col, fontSize:8, fontWeight:'bold', fontFamily:F, lineHeight:9, verticalAlign:'top'};
});
function legFmt(name) {
  let k = 'k';
  rowNames.forEach(row => row.forEach((n,i) => { if (n === name) k = supKey[curveColors[i]]; }));
  const m = name.match(/^(.*?)(st|nd|rd|th)$/);
  return '{' + k + '|' + m[1] + '}{' + k + 's|' + m[2] + '}';
}
const legA = (names, top) => ({
  data: names.map(n => { const m = aMaterials.find(a => a.name === n); return {name:n, textStyle:{color:m.color}}; }),
  left:122, top:top, orient:'horizontal', itemWidth:19, itemHeight:13, itemGap:10, selectedMode:false,
  textStyle:{fontSize:17, fontWeight:'bold', fontFamily:F}, padding:0
});
const legB = (names, top) => ({
  data: names, left:530, top:top, orient:'vertical', icon:'rect', itemWidth:8, itemHeight:3, itemGap:3,
  selectedMode:false, padding:0, formatter:legFmt, textStyle:{rich:richB, fontSize:13, fontWeight:'bold', fontFamily:F}
});

// texts
const supRich = (size) => ({s:{font: Math.round(size*0.62) + 'px ' + F, fill:'#000', lineHeight: Math.round(size*0.6), verticalAlign:'top'}});
function txt(x, y, text, size, opts) {
  opts = opts || {};
  return {type:'text', x:x, y:y, z:100, rotation: opts.rot || 0,
    style:{text:text, font:(opts.bold ? 'bold ' : '') + size + 'px ' + F, fill: opts.fill || '#000',
      align: opts.align || 'center', verticalAlign:'middle', textAlign: opts.align || 'center', textVerticalAlign:'middle',
      rich: supRich(size)}};
}
const R = Math.PI / 2;
const graphic = [
  txt(20, 30, 'a', 24),
  txt(373, 29, 'b', 24),
  txt(45, 143, 'Capacity / mAh g{s|-1}', 21, {rot:R}),
  txt(17, 317, 'Capacity', 21, {rot:R}),
  txt(41, 328, 'Retention / %', 21, {rot:R}),
  txt(212, 467, 'Cycle / #', 21),
  txt(372, 215, 'dQdV{s|-1} / (mAh g{s|-1})V{s|-1}', 21, {rot:R}),
  txt(791, 457, 'Voltage / V vs. Li/Li{s|+}', 21),
  txt(1096, 73, 'Clipped', 11),
  txt(1096, 216, 'Clipped', 11),
  txt(1103, 249, 'Clipped', 11),
  txt(1095, 393, 'Clipped', 11),
  txt(918, 397, 'Clipped', 11)
];
sampleNames.forEach((n, c) => graphic.push(txt(colLeft[c] + 2, 220, n, 22, {bold:true, fill:sampleColors[c], align:'left'})));

const option = {
  animation:false, backgroundColor:'#fff',
  grid:grid, xAxis:xAxis, yAxis:yAxis, series:series,
  legend:[legA(['CS - 800','PC811'], 12), legA(['CS - 750','SC811'], 35),
          legB(rowNames[0], 67), legB(rowNames[1], 239.5)],
  graphic:graphic, tooltip:{show:false}
};
const chart = echarts.init(document.getElementById('c'), null, {renderer:'canvas'});
chart.setOption(option);
</script></body></html>
